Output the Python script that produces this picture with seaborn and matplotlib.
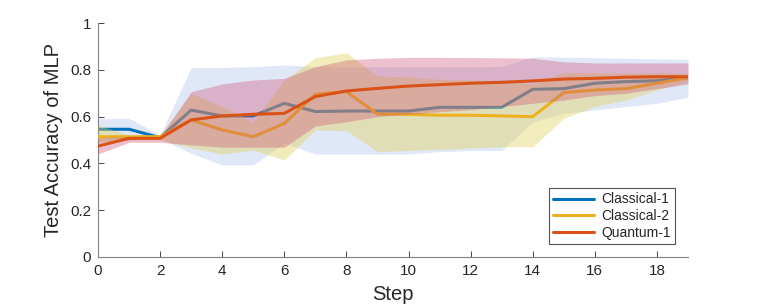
import numpy as np
import pandas as pd
import matplotlib
matplotlib.use("Agg")
import matplotlib.pyplot as plt
import seaborn as sns

steps = list(range(20))

c1_mean = [0.546, 0.546, 0.51, 0.628, 0.603, 0.603, 0.657, 0.622, 0.624, 0.624,
           0.624, 0.64, 0.64, 0.64, 0.717, 0.72, 0.743, 0.75, 0.754, 0.767]
c1_upper = [0.593, 0.593, 0.521, 0.811, 0.811, 0.814, 0.821, 0.815, 0.813, 0.813,
            0.813, 0.813, 0.813, 0.815, 0.856, 0.855, 0.852, 0.85, 0.848, 0.845]
c1_lower = [0.493, 0.50, 0.505, 0.443, 0.393, 0.393, 0.486, 0.44, 0.44, 0.44,
            0.44, 0.45, 0.455, 0.455, 0.578, 0.614, 0.629, 0.643, 0.657, 0.683]

c2_mean = [0.514, 0.514, 0.514, 0.586, 0.543, 0.514, 0.571, 0.696, 0.707, 0.611,
           0.61, 0.606, 0.606, 0.603, 0.6, 0.703, 0.714, 0.72, 0.743, 0.767]
c2_upper = [0.564, 0.52, 0.52, 0.70, 0.643, 0.578, 0.757, 0.853, 0.874, 0.774,
            0.77, 0.76, 0.757, 0.755, 0.74, 0.79, 0.788, 0.787, 0.787, 0.787]
c2_lower = [0.49, 0.50, 0.50, 0.466, 0.44, 0.457, 0.414, 0.543, 0.54, 0.45,
            0.455, 0.46, 0.465, 0.471, 0.471, 0.593, 0.643, 0.671, 0.714, 0.75]

q1_mean = [0.474, 0.507, 0.507, 0.586, 0.603, 0.61, 0.614, 0.686, 0.71, 0.721,
           0.731, 0.737, 0.743, 0.747, 0.753, 0.761, 0.764, 0.769, 0.771, 0.771]
q1_upper = [0.51, 0.515, 0.515, 0.707, 0.74, 0.757, 0.764, 0.814, 0.843, 0.85,
            0.854, 0.854, 0.853, 0.852, 0.85, 0.835, 0.83, 0.83, 0.83, 0.83]
q1_lower = [0.44, 0.49, 0.49, 0.479, 0.469, 0.469, 0.469, 0.56, 0.578, 0.6,
            0.611, 0.621, 0.63, 0.643, 0.657, 0.671, 0.69, 0.70, 0.72, 0.74]

labels = ["Classical-1", "Classical-2", "Quantum-1"]
line_colors = ["#0072BD", "#EDB120", "#D95319"]
fill_colors = [(0.6, 0.7, 0.9), (0.88, 0.82, 0.35), (0.8, 0.3, 0.45)]
fill_alpha = [0.3, 0.4, 0.35]

sns.set_style("ticks")
plt.rcParams["font.family"] = ["Liberation Sans", "DejaVu Sans"]

fig = plt.figure(figsize=(7.61, 3.06), dpi=100)
ax = fig.add_axes([0.1288, 0.161, 0.7752, 0.763])

series = [(c1_mean, c1_lower, c1_upper), (c2_mean, c2_lower, c2_upper),
          (q1_mean, q1_lower, q1_upper)]

for i, (m, lo, hi) in enumerate(series):
    ax.fill_between(steps, lo, hi, color=fill_colors[i], alpha=fill_alpha[i],
                    linewidth=0, zorder=2 * i + 1)
    df = pd.DataFrame({"Step": steps, "acc": m})
    sns.lineplot(data=df, x="Step", y="acc", ax=ax, color=line_colors[i],
                 linewidth=2.2, zorder=2 * i + 2, label=labels[i])

ax.set_xlim(0, 19)
ax.set_ylim(0, 1)
ax.set_xticks(range(0, 19, 2))
ax.set_yticks([0, 0.2, 0.4, 0.6, 0.8, 1])
ax.set_yticklabels(["0", "0.2", "0.4", "0.6", "0.8", "1"])
ax.set_xlabel("Step", fontsize=14.5, color="#262626", labelpad=5)
ax.set_ylabel("Test Accuracy of MLP", fontsize=14.5, color="#262626", labelpad=5)
ax.tick_params(direction="in", length=4, width=0.6, labelsize=11,
               colors="#262626", pad=5)
for s in ["top", "right"]:
    ax.spines[s].set_visible(False)
for s in ["left", "bottom"]:
    ax.spines[s].set_color("#808080")
    ax.spines[s].set_linewidth(0.8)

leg = ax.legend(loc="lower right", bbox_to_anchor=(0.978, 0.054),
                fontsize=10, frameon=True, fancybox=False,
                handlelength=3.0, borderpad=0.3, labelspacing=0.2,
                handletextpad=0.5, borderaxespad=0)
leg.get_frame().set_edgecolor("#262626")
leg.get_frame().set_linewidth(0.8)
for line in leg.get_lines():
    line.set_linewidth(2.2)

fig.savefig("out.png", dpi=100)
